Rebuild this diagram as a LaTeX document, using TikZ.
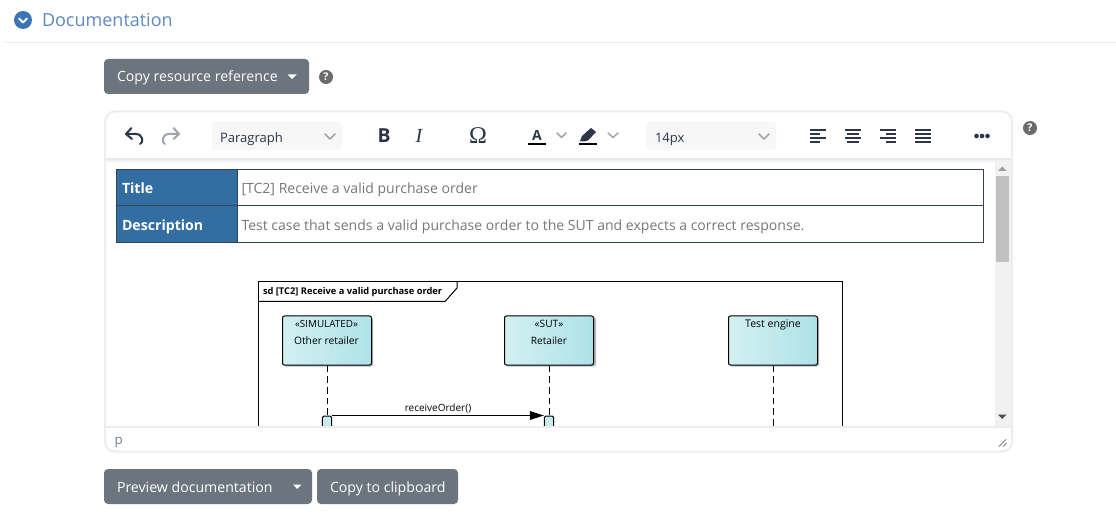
\documentclass[tikz,border=0pt]{standalone}
\usepackage{fontspec}
\setmainfont{Open Sans}
\newfontfamily\serifui{Liberation Serif}
\usetikzlibrary{arrows.meta,shadings}
\definecolor{btn}{HTML}{6C757D}
\definecolor{ink}{HTML}{2B3648}
\definecolor{blue}{HTML}{3A74B5}
\definecolor{headtxt}{HTML}{5F87C4}
\definecolor{edge}{HTML}{EDEDED}
\definecolor{cellb}{HTML}{336EA3}
\definecolor{cellline}{HTML}{34435A}
\definecolor{greytxt}{HTML}{777777}
\definecolor{selbg}{HTML}{F7F7F8}
\definecolor{chev}{HTML}{A0A4AB}
\definecolor{scrollbg}{HTML}{F1F1F1}
\definecolor{thumb}{HTML}{C1C1C1}
\definecolor{lifeL}{HTML}{D3F0F2}
\definecolor{lifeR}{HTML}{AEE2E7}
\definecolor{statp}{HTML}{6F7F90}
\newcommand{\fs}[1]{\fontsize{#1}{#1}\selectfont}
\tikzset{
  x=0.75pt,y=-0.75pt,
  txt/.style={inner sep=0pt,outer sep=0pt,anchor=base west},
  btnbox/.style={fill=btn,rounded corners=3pt,draw=none},
  btntxt/.style={txt,text=white,font=\fs{10.6pt}},
  caret/.style={fill=white,draw=none},
  helpdot/.style={circle,fill=black!58,minimum size=10.5pt,inner sep=0pt,text=white,font=\bfseries\fs{8pt}},
  chevron/.style={draw=chev,line width=1.1pt,line cap=round,line join=round},
  selbox/.style={fill=selbg,rounded corners=2pt,draw=none},
  selt/.style={txt,text=ink,font=\fs{9.8pt}},
  tool/.style={draw=ink,line width=1.5pt,line join=round},
  cellhead/.style={txt,text=white,font=\bfseries\fs{10.6pt}},
  celltxt/.style={txt,text=greytxt,font=\fs{10.53pt}},
  lifebox/.style={draw=black,line width=0.75pt,rounded corners=1.5pt,left color=lifeL,right color=lifeR,shading angle=90,minimum width=66.75pt,minimum height=36.75pt,inner sep=0pt},
  shad/.style={fill=black!28,draw=none,rounded corners=1.5pt},
  lifetxt/.style={inner sep=0pt,font=\fs{7.6pt},text=black},
  lifeline/.style={draw=black,line width=0.75pt,dash pattern=on 5pt off 3pt},
  actbox/.style={fill=lifeR!70!white,draw=black,line width=0.75pt,rounded corners=1.2pt},
  msg/.style={draw=black,line width=0.75pt,-{Triangle[length=10.5pt,width=6.5pt,fill=black]}},
}
\begin{document}
\begin{tikzpicture}
\useasboundingbox (0,0) rectangle (1116,516);
\fill[white] (0,0) rectangle (1116,516);
% header
\node[circle,fill=blue,minimum size=13.5pt,inner sep=0pt] (hd) at (23,20) {};
\draw[white,line width=1.4pt,line cap=round,line join=round] (19,18.5) -- (23,22.5) -- (27,18.5);
\node[txt,text=headtxt,font=\fs{13.5pt}] (title) at (42,27) {Documentation};
\draw[edge,line width=0.75pt] (4,42.5) -- (1116,42.5);
% top button
\fill[btnbox] (104,59) rectangle (309,94);
\node[btntxt] (b1) at (117,82) {Copy resource reference};
\fill[caret] (287.5,74.5) -- (296.5,74.5) -- (292,79) -- cycle;
\node[helpdot] (h1) at (326,77) {?};
% editor frame
\fill[white,draw=edge,line width=1.5pt,rounded corners=7.5pt] (105,111.5) rectangle (1012,451.5);
% toolbar shadow
\shade[top color=black!8,bottom color=white] (106,159) rectangle (1011,163);
% scrollbar
\fill[scrollbg] (994.5,160) rectangle (1011,426.5);
\fill[thumb] (996,176) rectangle (1009,262);
\fill[black!38] (998,171) -- (1006.5,171) -- (1002.2,166.5) -- cycle;
\fill[black!70] (998,414.5) -- (1006.5,414.5) -- (1002.2,419) -- cycle;
% table
\fill[cellb] (116.5,169.5) rectangle (237,242.5);
\draw[cellline,line width=0.75pt] (116.5,169.5) rectangle (983.5,242.5);
\draw[cellline,line width=0.75pt] (116.5,205.5) -- (983.5,205.5);
\draw[cellline,line width=0.75pt] (237,169.5) -- (237,242.5);
\node[cellhead] (t1) at (122,193.5) {Title};
\node[cellhead] (t2) at (122,230.5) {Description};
\node[celltxt] (v1) at (241.5,193.5) {[TC2] Receive a valid purchase order};
\node[celltxt] (v2) at (241.5,230.5) {Test case that sends a valid purchase order to the SUT and expects a correct response.};
% sequence diagram clipped by status bar
\begin{scope}
\clip (106,160) rectangle (994,426.5);
\draw[black,line width=0.75pt] (258.5,440) -- (258.5,281.5) -- (842.5,281.5) -- (842.5,440);
\draw[black,line width=0.75pt] (258.5,301.5) -- (445,301.5) -- (457,288) -- (457,281.5);
\node[txt,text=black,font=\bfseries\fs{6.97pt}] (sd) at (263,294.5) {sd [TC2] Receive a valid purchase order};
\fill[shad] (284,317.5) rectangle (373,366.5);
\fill[shad] (506,317.5) rectangle (596,366.5);
\fill[shad] (730,317.5) rectangle (819,366.5);
\node[lifebox,anchor=north west] (a) at (282,315.5) {};
\node[lifebox,anchor=north west] (b) at (504,315.5) {};
\node[lifebox,anchor=north west] (c) at (728,315.5) {};
\node[lifetxt,font=\fs{7.4pt}] at (326.5,324) {«SIMULATED»};
\node[lifetxt,font=\fs{7.7pt}] at (326.5,340.5) {Other retailer};
\node[lifetxt] at (549,324) {«SUT»};
\node[lifetxt] at (549,340.5) {Retailer};
\node[lifetxt,font=\fs{7.9pt}] at (773,325) {Test engine};
\coordinate (ae) at (327,440);
\coordinate (be) at (549,440);
\coordinate (ce) at (773,440);
\draw[lifeline] (a.south -| ae) -- (ae);
\draw[lifeline] (b.south -| be) -- (be);
\draw[lifeline] (c.south -| ce) -- (ce);
\node[actbox,minimum width=7pt,minimum height=21pt,inner sep=0pt,anchor=north] (aa) at (327,415.5) {};
\node[actbox,minimum width=7pt,minimum height=21pt,inner sep=0pt,anchor=north] (ba) at (549,415.5) {};
\draw[msg] (aa.north east) -- (ba.north west);
\node[lifetxt,font=\fs{7.5pt}] (rcv) at (438,408) {receiveOrder()};
\end{scope}
% status bar
\draw[edge,line width=1pt] (106,427) -- (1011,427);
\node[txt,text=statp,font=\fs{10pt}] (p) at (114.5,444.5) {p};
\draw[black!50,line width=0.6pt] (999,446.5) -- (1006,439.5) (1003,446.5) -- (1006.5,443);
% undo / redo
\draw[tool,line cap=round] (131.5,128) -- (126,134) -- (132,139) (126,134) -- (136,134) .. controls (143,134) and (144,143) .. (140,144);
\draw[chev,line width=1.5pt,line cap=round,line join=round] (173.5,128) -- (179,134) -- (173.5,139) (179,134) -- (169,134) .. controls (162,134) and (161,143) .. (165,144);
% selects
\fill[selbox] (212,122) rectangle (342,150);
\node[selt] (para) at (220,142.5) {Paragraph};
\draw[chevron] (325,134) -- (330,139) -- (335,134);
\node[txt,text=ink,font=\bfseries\fs{14.5pt},anchor=base] (bold) at (384,143) {B};
\node[txt,text=ink,font=\serifui\itshape\fs{15pt},anchor=base] (ital) at (419,143) {I};
\node[txt,text=ink,font=\serifui\fs{18pt},anchor=base] (omega) at (478,143.5) {Ω};
\node[txt,text=ink,font=\bfseries\fs{10.5pt},anchor=base] (colA) at (537,141) {A};
\fill[black] (528,143) rectangle (546,145.5);
\draw[chevron] (557,133) -- (561.5,137.5) -- (566,133);
\fill[ink] (580,141) -- (582,136) -- (591,128) -- (596,132) -- (588,140.5) -- (584,141.5) -- cycle;
\fill[black] (579,143) rectangle (597,145.5);
\draw[chevron] (608,133) -- (613,137.5) -- (618,133);
\fill[selbox] (646,122) rectangle (776,150);
\node[selt] (size) at (655,142.5) {14px};
\draw[chevron] (759,134) -- (764,139) -- (769,134);
% align icons
\foreach \xa/\xb/\xc/\xd/\xe/\xf in {810/826/810/820/810/826, 845/861/847/859/845/861, 880/896/886/896/880/896, 915/931/915/931/915/931}{
  \draw[ink,line width=1.4pt] (\xa,130) -- (\xb,130) (\xc,134) -- (\xd,134) (\xe,138) -- (\xf,138) (\xc,142) -- (\xd,142);
}
% dots
\fill[ink] (976.5,136) circle (2.3) (982,136) circle (2.3) (987.5,136) circle (2.3);
\node[helpdot] (h2) at (1030,128) {?};
% bottom buttons
\fill[btnbox] (104,469) rectangle (312,504);
\node[btntxt] (b2) at (117,492) {Preview documentation};
\fill[caret] (293,484.5) -- (301.5,484.5) -- (297.2,489) -- cycle;
\fill[btnbox] (317,469) rectangle (458,504);
\node[btntxt] (b3) at (330,492) {Copy to clipboard};
\end{tikzpicture}
\end{document}
